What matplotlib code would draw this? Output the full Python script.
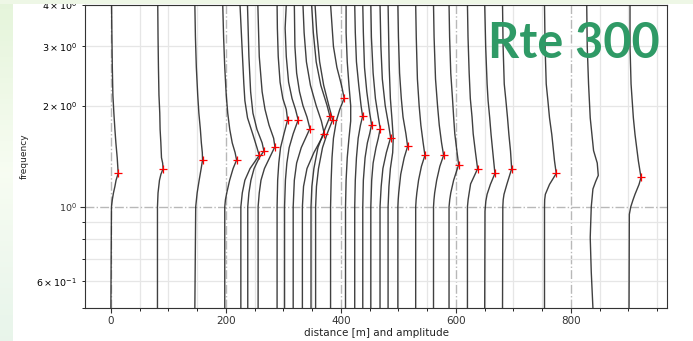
import matplotlib.pyplot as plt
import numpy as np
from matplotlib.patches import Rectangle
from matplotlib.ticker import MultipleLocator

# station positions along the line [m]
stations = [0, 81, 146, 198, 226, 238, 256, 289, 302, 317, 333, 348, 356, 382, 408,
            424, 438, 452, 468, 482, 499, 530, 561, 588, 620, 650, 681, 754, 837, 901]

# picked peak of every station: frequency and amplitude (drawn as offset in m), None = no pick
peak_freq = [1.257, 1.298, 1.378, 1.378, 1.423, 1.466, 1.51, 1.814, 1.814, 1.71, 1.652, 1.857,
             1.814, 2.105, None, 1.859, 1.757, 1.71, 1.607, None, 1.514, 1.423, 1.423, 1.335,
             1.298, 1.257, 1.298, 1.257, None, 1.223]
peak_amp = [12.7, 9.8, 13.4, 20.6, 31.9, 28.1, 29.2, 18.3, 23.7, 29.1, 38.0, 32.9,
            29.6, 23.7, None, 13.7, 15.4, 16.3, 18.4, None, 17.0, 16.1, 17.6, 16.7,
            17.7, 17.8, 15.9, 20.4, None, 20.8]

# amplitude curves (offset in m) for every station, at their own frequencies
curve_freq = [
    [0.5, 1.0, 1.05, 1.1, 1.15, 1.2, 1.3, 1.4, 1.55, 1.7, 1.9, 2.15, 2.6, 3.2, 4.0],
    [0.5, 1.0, 1.1, 1.2, 1.25, 1.35, 1.4, 1.55, 1.7, 1.9, 2.15, 2.6, 3.2, 4.0],
    [0.5, 1.0, 1.1, 1.2, 1.3, 1.45, 1.55, 1.7, 1.9, 2.15, 2.6, 3.2, 4.0],
    [0.5, 1.0, 1.05, 1.1, 1.2, 1.3, 1.45, 1.55, 1.7, 1.9, 2.15, 2.6, 3.2, 4.0],
    [0.5, 1.0, 1.1, 1.2, 1.3, 1.5, 1.64, 1.84, 2.07, 2.32, 3.0, 4.0],
    [0.5, 1.0, 1.1, 1.2, 1.3, 1.4, 1.55, 1.7, 1.9, 2.2, 2.8, 4.0],
    [0.5, 1.0, 1.1, 1.2, 1.3, 1.4, 1.6, 1.75, 1.95, 2.2, 2.8, 4.0],
    [0.5, 1.0, 1.2, 1.35, 1.5, 1.65, 1.95, 2.1, 2.35, 2.8, 3.4, 4.0],
    [0.5, 1.0, 1.2, 1.35, 1.5, 1.65, 1.95, 2.1, 2.35, 2.8, 3.4, 4.0],
    [0.5, 1.0, 1.2, 1.35, 1.5, 1.85, 2.0, 2.2, 2.5, 3.0, 4.0],
    [0.5, 1.0, 1.15, 1.3, 1.45, 1.8, 2.0, 2.3, 2.7, 3.3, 4.0],
    [0.5, 1.0, 1.15, 1.3, 1.5, 1.7, 2.0, 2.3, 2.7, 3.3, 4.0],
    [0.5, 1.0, 1.15, 1.3, 1.5, 1.65, 2.0, 2.3, 2.7, 3.3, 4.0],
    [0.5, 1.0, 1.2, 1.4, 1.6, 1.8, 1.95, 2.3, 2.6, 3.0, 4.0],
    [0.5, 1.0, 1.2, 1.4, 1.6, 1.8, 2.0, 2.3, 2.7, 3.3, 4.0],
    [0.5, 1.0, 1.2, 1.4, 1.6, 1.75, 2.0, 2.3, 2.7, 3.3, 4.0],
    [0.5, 1.0, 1.2, 1.4, 1.55, 1.65, 1.9, 2.2, 2.6, 3.3, 4.0],
    [0.5, 1.0, 1.2, 1.35, 1.5, 1.6, 1.85, 2.1, 2.5, 3.2, 4.0],
    [0.5, 1.0, 1.15, 1.3, 1.45, 1.75, 2.0, 2.4, 3.0, 4.0],
    [0.5, 1.0, 1.15, 1.3, 1.45, 1.6, 1.8, 2.1, 2.6, 3.2, 4.0],
    [0.5, 1.0, 1.05, 1.1, 1.25, 1.4, 1.65, 1.85, 2.1, 2.5, 3.2, 4.0],
    [0.5, 1.0, 1.05, 1.1, 1.2, 1.32, 1.55, 1.75, 2.0, 2.4, 3.2, 4.0],
    [0.5, 1.0, 1.05, 1.1, 1.2, 1.32, 1.55, 1.75, 2.0, 2.4, 3.2, 4.0],
    [0.5, 1.0, 1.05, 1.1, 1.2, 1.45, 1.65, 1.85, 2.1, 2.5, 3.2, 4.0],
    [0.5, 1.0, 1.05, 1.1, 1.17, 1.45, 1.65, 1.85, 2.1, 2.5, 3.2, 4.0],
    [0.5, 0.97, 1.04, 1.09, 1.166, 1.37, 1.64, 1.84, 2.07, 2.32, 3.0, 4.0],
    [0.5, 1.0, 1.05, 1.09, 1.166, 1.465, 1.64, 1.84, 2.07, 2.32, 3.0, 4.0],
    [0.5, 1.0, 1.05, 1.09, 1.166, 1.37, 1.64, 1.84, 2.07, 2.32, 3.0, 4.0],
    [0.5, 0.64, 0.81, 1.0, 1.13, 1.19, 1.24, 1.35, 1.47, 1.84, 2.32, 3.0, 4.0],
    [0.5, 0.95, 1.0, 1.05, 1.09, 1.166, 1.37, 1.64, 1.84, 2.32, 3.0, 4.0],
]
curve_amp = [
    [0, 1, 2.5, 4.5, 7, 9, 12.2, 11, 8.7, 7, 5.2, 3.5, 2.5, 1.8, 1.2],
    [0, 0, 1, 3.5, 6, 9, 7, 5.9, 4.6, 4, 2.6, 1.7, 1, 0.5],
    [0, 1.5, 4, 7.5, 11, 13, 11.3, 9.6, 7, 5, 2.6, 1, 0],
    [0, 0, 1.2, 3.5, 8.5, 14.5, 18, 13, 8.7, 5.2, 2.6, 0, -2, -3.5],
    [0, 0, 2.5, 7, 16, 28, 21, 11.6, 7, 5.2, 2, -1.5],
    [0, 0, 2, 5.5, 11, 20, 25, 16, 9, 5, 2, -0.5],
    [0, 0, 2, 5, 11, 20, 27, 19, 12, 7, 2, -0.5],
    [0, 0, 1, 3, 6, 12, 16, 10, 5.2, 2, 0.5, 0],
    [0, 0, 1.5, 4, 8, 15, 19, 13, 7, 3, 1, 3],
    [0, 0, 2, 6, 14, 24, 17, 11, 6, 3, 2],
    [0, 0, 2, 8, 20, 33, 24, 14, 7, 3, 1],
    [0, 0, 1.5, 5, 12, 24, 28, 17, 9, 4, 1],
    [0, 0, 1.5, 5, 12, 20, 23, 14, 7, 2, -1],
    [0, 0, 1, 2.5, 5, 10, 16, 19, 11, 5, 0],
    [0, 0, 1, 3, 6, 9, 9, 6, 3, 1, 1],
    [0, 0, 1, 3, 6, 10, 11, 7, 3, 1, 0],
    [0, 0, 1, 4, 8, 12, 12, 7, 3, 1, 0],
    [0, 0, 1.5, 4, 9, 13, 13, 8, 4, 1, 0],
    [0, 0, 2, 5, 11, 15, 9, 4, 1.5, 0],
    [0, 0, 1.5, 4, 8, 9, 7, 4, 2, 1, 0],
    [0, 0, 0.6, 1.5, 5, 11, 14, 9, 6, 3, 1, 0],
    [0, 0, 0.8, 2, 5, 10, 13, 9, 6, 3, 1, 0],
    [0, 0, 0.8, 2, 5.5, 11, 14, 10, 7, 3.5, 1, 0],
    [0, 0, 1.2, 3, 8, 14, 10, 8, 6, 3, 1, 0],
    [0, 0, 1.2, 3, 5.5, 14, 10, 8, 5, 3, 1, 0],
    [0, 0.5, 2, 4.2, 9.9, 15.6, 11.1, 8.7, 5.9, 4.2, 1.7, 0],
    [0, 0.5, 1.2, 2.6, 7.5, 13.9, 11.1, 8.7, 5.9, 3, 1, 0],
    [0, 0, 0.3, 1.5, 8.7, 17.4, 12.7, 8.7, 5.9, 3, 1, 0],
    [1.2, -1.7, -3.5, -1.7, 1.2, 6, 10.5, 8.7, 2.3, -3.5, -6.4, -8.7, -9.6],
    [0, 0.5, 3, 7, 10.4, 17.4, 16.2, 10.4, 7.5, 3.5, 1.7, 1.7],
]

W, H = 693, 341
fig = plt.figure(figsize=(W / 100, H / 100), dpi=100, facecolor="white")
ax = fig.add_axes([85 / W, (H - 308) / H, 582 / W, 303.5 / H])

for dist, f_knots, a_knots, fp, ap in zip(stations, curve_freq, curve_amp, peak_freq, peak_amp):
    f_all = list(f_knots)
    a_all = list(a_knots)
    if fp is not None:
        f_all.append(fp)
        a_all.append(ap)
    order = np.argsort(f_all)
    f_all = np.asarray(f_all)[order]
    a_all = np.asarray(a_all)[order]
    ax.plot(dist + a_all, f_all, color="#2b2b2b", lw=1.0, alpha=0.9, zorder=3)

picked = [(d + a, f) for d, f, a in zip(stations, peak_freq, peak_amp) if f is not None]
px, py = zip(*picked)
ax.plot(px, py, "+", color="red", ms=5.5, mew=0.9, zorder=4)

ax.set_yscale("log")
ax.set_ylim(0.5, 4.0)
ax.set_xlim(-45, 967)
ax.xaxis.set_major_locator(MultipleLocator(200))
ax.xaxis.set_minor_locator(MultipleLocator(50))
ax.grid(True, which="major", color="#b8b8b8", linestyle="-.", lw=1.0, zorder=0)
ax.grid(True, which="minor", color="#e6e6e6", linestyle="-", lw=0.9, zorder=0)
ax.set_axisbelow(True)
ax.tick_params(labelsize=7.5, length=3.5, width=0.8, pad=2.5, colors="#333333")
ax.tick_params(axis="y", which="both", labelsize=6.8)
ax.tick_params(which="minor", length=2, width=0.6)
for s in ax.spines.values():
    s.set_linewidth(0.8)
    s.set_color("#333333")
ax.set_xlabel("distance [m] and amplitude", fontsize=7.5, labelpad=1, color="#222222")
ax.set_ylabel("frequency", fontsize=6.5, color="#222222")
ax.yaxis.set_label_coords(-0.097, 0.5)

# slide backdrop: pale green strip at the top and a soft gradient on the left
fig.patches.append(Rectangle((0, (H - 4) / H), 1, 4 / H, transform=fig.transFigure,
                             facecolor="#eef7e6", edgecolor="none", zorder=10))
bg = fig.add_axes([0, 0, 13 / W, (H - 4) / H], zorder=10)
rows = np.linspace(0, 1, 64)[:, None, None]
top_col = np.array([0.90, 0.96, 0.86])
mid_col = np.array([0.97, 0.99, 0.95])
bot_col = np.array([0.91, 0.96, 0.92])
grad = np.where(rows < 0.5, top_col + (mid_col - top_col) * rows * 2,
                mid_col + (bot_col - mid_col) * (rows - 0.5) * 2)
bg.imshow(np.repeat(grad, 4, axis=1), aspect="auto", extent=[0, 1, 0, 1])
bg.axis("off")

fig.text(574 / W, 1 - 43 / H, "Rte 300", fontsize=35, fontweight="bold", family="Lato",
         color="#2f9a66", ha="center", va="center", zorder=11)

fig.savefig("out.png", dpi=100, facecolor=fig.get_facecolor())
